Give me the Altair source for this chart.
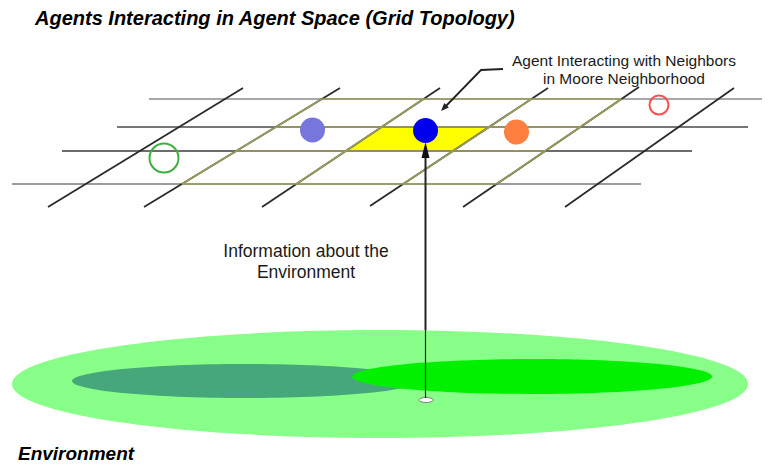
import altair as alt
import pandas as pd

# ---------------- texts ----------------
TITLE = "Agents Interacting in Agent Space (Grid Topology)"
ENV_LABEL = "Environment"
CALLOUT_LINES = ["Agent Interacting with Neighbors", "in Moore Neighborhood"]
INFO_LINES = ["Information about the", "Environment"]

# ---------------- grid (agent space) ----------------
H_Y = [99, 127, 151, 184]
H_X_START = [149, 117, 62, 12]
H_X_END = [768, 748, 692, 641]
H_COLOR = ["#8a8a8a", "#4a4a4a", "#3c3c3c", "#7a7a7a"]

D_X_BOTTOM = [48, 144, 262, 370, 463, 565]
D_X_TOP = [243, 340, 440, 548, 639, 734]
D_Y_BOTTOM = [207, 207, 207, 206, 207, 207]
D_Y_TOP = [88, 88, 88, 88, 87, 88]

# Moore neighbourhood: rows bounded by horizontal lines 0..3, columns by diagonals 1..4
MOORE_H = [0, 1, 2, 3]
MOORE_D = [1, 2, 3, 4]
CENTER_H = [1, 2]
CENTER_D = [2, 3]

# ---------------- agents ----------------
FILLED_X = [312.5, 425.5, 516.5]
FILLED_Y = [130, 130.5, 132]
FILLED_D = [25, 25, 25]
FILLED_C = ["#7676dc", "#0000ee", "#ff7f40"]

HOLLOW_X = [164, 659]
HOLLOW_Y = [158, 105]
HOLLOW_D = [29, 19]
HOLLOW_C = ["#3fae3f", "#ff4d4d"]

# ---------------- environment ----------------
ENV_CX = [380, 245, 532]
ENV_CY = [384, 381, 376.5]
ENV_RX = [368, 173, 180]
ENV_RY = [54, 17, 17.5]
ENV_FILL = ["#88ff88", "#46a87a", "#00f000"]

SENSOR_X = [426]
SENSOR_Y = [400]
SENSOR_RX = [7]
SENSOR_RY = [2.5]

# ---------------- arrows ----------------
UP_X = [425.5, 425.5]
UP_Y0 = [330, 398]
UP_Y1 = [152, 330]
UP_W = [2.0, 1.2]
UP_HEAD_X = [425.5]
UP_HEAD_Y = [150]

LEADER_X = [503, 481, 444]
LEADER_Y = [69, 70, 108]
LEADER_HEAD_X = [443.8]
LEADER_HEAD_Y = [108.1]

xs = alt.Scale(domain=[8, 762], nice=False, zero=False)
ys = alt.Scale(domain=[8, 466], nice=False, zero=False, reverse=True)


def X(f):
    return alt.X(f, type="quantitative", scale=xs, axis=None)


def Y(f):
    return alt.Y(f, type="quantitative", scale=ys, axis=None)


def diag_x(i, y):
    xb, xt, yb, yt = D_X_BOTTOM[i], D_X_TOP[i], D_Y_BOTTOM[i], D_Y_TOP[i]
    return xb + (yb - y) / (yb - yt) * (xt - xb)


def ellipse_path(rx, ry):
    r = ry / rx
    return f"M-1,0A1,{r:.4f},0,1,1,1,0A1,{r:.4f},0,1,1,-1,0Z"


layers = []

# environment ellipses
for cx, cy, rx, ry, fc in zip(ENV_CX, ENV_CY, ENV_RX, ENV_RY, ENV_FILL):
    d = pd.DataFrame({"x": [cx], "y": [cy]})
    layers.append(
        alt.Chart(d).mark_point(filled=True, color=fc, opacity=1,
                                shape=ellipse_path(rx, ry), size=(2 * rx) ** 2)
        .encode(x=X("x"), y=Y("y"))
    )
for cx, cy, rx, ry in zip(SENSOR_X, SENSOR_Y, SENSOR_RX, SENSOR_RY):
    d = pd.DataFrame({"x": [cx], "y": [cy]})
    layers.append(
        alt.Chart(d).mark_point(filled=True, fill="white", stroke="#777777", strokeWidth=1,
                                opacity=1, shape=ellipse_path(rx, ry), size=(2 * rx) ** 2)
        .encode(x=X("x"), y=Y("y"))
    )

# yellow centre cell
cell = pd.DataFrame({
    "y": [H_Y[CENTER_H[0]], H_Y[CENTER_H[1]]],
    "xa": [diag_x(CENTER_D[0], H_Y[CENTER_H[0]]), diag_x(CENTER_D[0], H_Y[CENTER_H[1]])],
    "xb": [diag_x(CENTER_D[1], H_Y[CENTER_H[0]]), diag_x(CENTER_D[1], H_Y[CENTER_H[1]])],
})
layers.append(
    alt.Chart(cell).mark_area(orient="horizontal", color="#ffff00", opacity=1)
    .encode(y=Y("y"), x=X("xa"), x2=alt.X2("xb"))
)

# horizontal grid lines
hdf = pd.DataFrame({"x": H_X_START, "x2": H_X_END, "y": H_Y, "y2": H_Y, "c": H_COLOR})
layers.append(
    alt.Chart(hdf).mark_rule(strokeWidth=1.6)
    .encode(x=X("x"), x2=alt.X2("x2"), y=Y("y"), y2=alt.Y2("y2"), color=alt.Color("c:N", scale=None))
)

# diagonal grid lines
ddf = pd.DataFrame({"x": D_X_BOTTOM, "x2": D_X_TOP, "y": D_Y_BOTTOM, "y2": D_Y_TOP})
layers.append(
    alt.Chart(ddf).mark_rule(strokeWidth=1.8, color="#2a2a2a")
    .encode(x=X("x"), x2=alt.X2("x2"), y=Y("y"), y2=alt.Y2("y2"))
)

# Moore neighbourhood segments (olive)
seg = []
for h in MOORE_H:
    y = H_Y[h]
    seg.append((diag_x(MOORE_D[0], y), y, diag_x(MOORE_D[-1], y), y))
for dd in MOORE_D:
    y0, y1 = H_Y[MOORE_H[-1]], H_Y[MOORE_H[0]]
    seg.append((diag_x(dd, y0), y0, diag_x(dd, y1), y1))
sdf = pd.DataFrame(seg, columns=["x", "y", "x2", "y2"])
layers.append(
    alt.Chart(sdf).mark_rule(strokeWidth=1.7, color="#9c9c5c")
    .encode(x=X("x"), x2=alt.X2("x2"), y=Y("y"), y2=alt.Y2("y2"))
)

# agents
fdf = pd.DataFrame({"x": FILLED_X, "y": FILLED_Y, "s": [d * d for d in FILLED_D], "c": FILLED_C})
layers.append(
    alt.Chart(fdf).mark_point(filled=True, shape="circle", opacity=1)
    .encode(x=X("x"), y=Y("y"), size=alt.Size("s:Q", scale=None),
            color=alt.Color("c:N", scale=None))
)
odf = pd.DataFrame({"x": HOLLOW_X, "y": HOLLOW_Y, "s": [d * d for d in HOLLOW_D], "c": HOLLOW_C})
layers.append(
    alt.Chart(odf).mark_point(filled=False, shape="circle", opacity=1, strokeWidth=2)
    .encode(x=X("x"), y=Y("y"), size=alt.Size("s:Q", scale=None),
            color=alt.Color("c:N", scale=None))
)

# vertical information arrow
udf = pd.DataFrame({"x": UP_X, "y": UP_Y0, "y2": UP_Y1, "w": UP_W})
layers.append(
    alt.Chart(udf).mark_rule(color="#222222")
    .encode(x=X("x"), y=Y("y"), y2=alt.Y2("y2"), strokeWidth=alt.StrokeWidth("w:Q", scale=None))
)
layers.append(
    alt.Chart(pd.DataFrame({"x": UP_HEAD_X, "y": UP_HEAD_Y}))
    .mark_point(filled=True, color="#111111", opacity=1, shape="M0,-1L0.5,1L-0.5,1Z", size=256)
    .encode(x=X("x"), y=Y("y"))
)

# callout leader
ldf = pd.DataFrame({"x": LEADER_X, "y": LEADER_Y, "o": list(range(len(LEADER_X)))})
layers.append(
    alt.Chart(ldf).mark_line(color="#222222", strokeWidth=1.8)
    .encode(x=X("x"), y=Y("y"), order="o:Q")
)
layers.append(
    alt.Chart(pd.DataFrame({"x": LEADER_HEAD_X, "y": LEADER_HEAD_Y}))
    .mark_point(filled=True, color="#222222", opacity=1, shape="M0,-1L0.8,1L-0.8,1Z",
                size=64, angle=224)
    .encode(x=X("x"), y=Y("y"))
)

# texts
def text_layer(lines, xpos, ypos, size, align, weight="normal", style="normal", color="#1a1a1a"):
    d = pd.DataFrame({"x": xpos, "y": ypos, "t": lines})
    return alt.Chart(d).mark_text(
        font="Liberation Sans", fontSize=size, fontWeight=weight, fontStyle=style,
        align=align, baseline="alphabetic", color=color
    ).encode(x=X("x"), y=Y("y"), text="t:N")


layers.append(text_layer([TITLE], [35], [25], 20, "left", "bold", "italic", "#000000"))
layers.append(text_layer([ENV_LABEL], [18], [460], 19, "left", "bold", "italic", "#000000"))
layers.append(text_layer(CALLOUT_LINES, [624, 624], [66, 84], 15.5, "center"))
layers.append(text_layer(INFO_LINES, [306, 306], [257, 277.5], 17.5, "center"))

chart = alt.layer(*layers).properties(
    width=754, height=458, autosize=alt.AutoSizeParams(type="none"), padding=0,
    background="white"
).configure_view(stroke=None)

chart.save("out.html", embed_options={"renderer": "svg", "actions": False})
